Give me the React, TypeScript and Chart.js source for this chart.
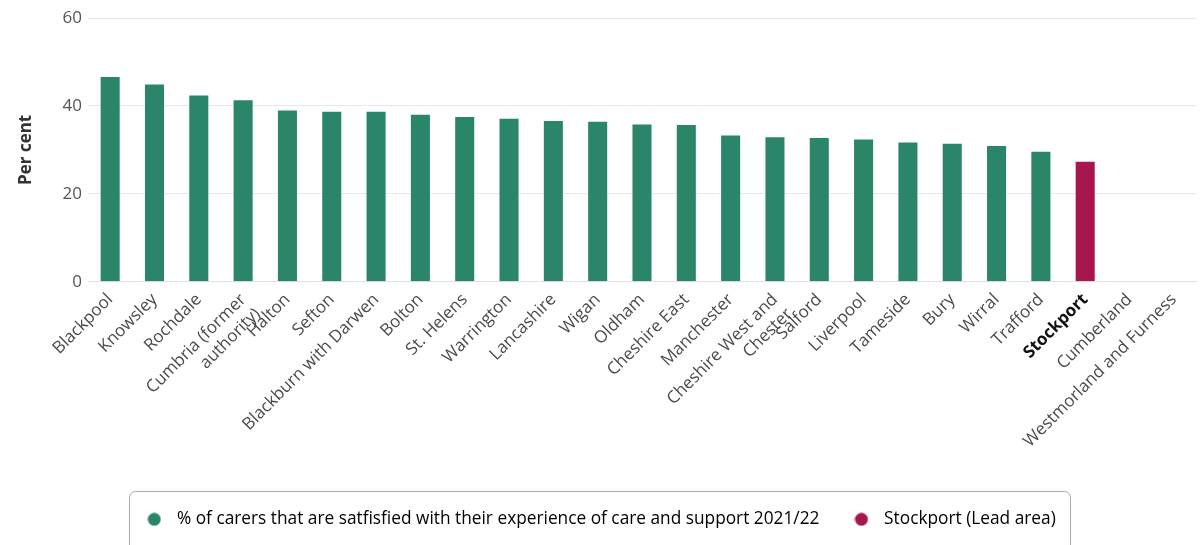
import React, { useEffect, useRef } from 'react';
import { Chart, registerables } from 'chart.js';
Chart.register(...registerables);

const categories: (string | string[])[] = [
  'Blackpool', 'Knowsley', 'Rochdale', ['Cumbria (former', 'authority)'], 'Halton', 'Sefton',
  'Blackburn with Darwen', 'Bolton', 'St. Helens', 'Warrington', 'Lancashire', 'Wigan', 'Oldham',
  'Cheshire East', 'Manchester', ['Cheshire West and', 'Chester'], 'Salford', 'Liverpool', 'Tameside',
  'Bury', 'Wirral', 'Trafford', 'Stockport', 'Cumberland', 'Westmorland and Furness',
];
const values: (number | null)[] = [
  46.8, 45.1, 42.6, 41.5, 39.2, 38.9, 38.9, 38.2, 37.7, 37.3, 36.8, 36.6, 36.0,
  35.9, 33.5, 33.1, 32.9, 32.6, 31.9, 31.6, 31.1, 29.8, 27.5, null, null,
];
const yTicks = [0, 20, 40, 60];
const leadArea = 'Stockport';
const seriesLabel = '% of carers that are satfisfied with their experience of care and support 2021/22';
const leadLabel = 'Stockport (Lead area)';
const yTitle = 'Per cent';

const GREEN = '#2b8669';
const CRIMSON = '#a7164f';
const FONT = '"Open Sans", "Noto Sans", sans-serif';

function dot(color: string) {
  const c = document.createElement('canvas');
  c.width = 14;
  c.height = 14;
  const g = c.getContext('2d')!;
  g.fillStyle = color;
  g.beginPath();
  g.arc(7, 7, 6.5, 0, Math.PI * 2);
  g.fill();
  return c;
}

const legendFrame = {
  id: 'legendFrame',
  afterDraw(chart: any) {
    const lg = chart.legend;
    if (!lg || !lg.legendHitBoxes || !lg.legendHitBoxes.length) return;
    const hb = lg.legendHitBoxes;
    const first = hb[0];
    const last = hb[hb.length - 1];
    const cy = first.top + first.height / 2;
    const x0 = Math.round(first.left - 11) + 0.5;
    const x1 = Math.round(last.left + last.width + 14) + 0.5;
    const y0 = Math.round(cy - 28) + 0.5;
    const y1 = cy + 80;
    const ctx = chart.ctx;
    ctx.save();
    ctx.strokeStyle = '#a9a9a9';
    ctx.lineWidth = 1;
    ctx.beginPath();
    ctx.roundRect(x0, y0, x1 - x0, y1 - y0, 6);
    ctx.stroke();
    ctx.restore();
  },
};

export default function App() {
  const ref = useRef<HTMLCanvasElement>(null);
  useEffect(() => {
    if (!ref.current) return;
    const isLead = (i: number) => categories[i] === leadArea;
    const chart = new Chart(ref.current, {
      type: 'bar',
      data: {
        labels: categories as any,
        datasets: [
          {
            label: seriesLabel,
            data: values as any,
            backgroundColor: categories.map((c) => (c === leadArea ? CRIMSON : GREEN)),
            borderColor: 'rgba(255,255,255,0.35)',
            borderWidth: 1,
            barPercentage: 0.475,
            categoryPercentage: 1,
          },
        ],
      },
      options: {
        animation: false,
        responsive: false,
        layout: { padding: { top: 18, right: 6, bottom: 7, left: 0 } },
        plugins: {
          tooltip: { enabled: false },
          legend: {
            position: 'bottom',
            labels: {
              usePointStyle: true,
              pointStyleWidth: 28,
              padding: 28,
              color: '#333333',
              font: { family: FONT, size: 17.3 },
              generateLabels: () => [
                { text: seriesLabel, fillStyle: GREEN, strokeStyle: GREEN, lineWidth: 0, pointStyle: dot(GREEN) as any, hidden: false, datasetIndex: 0 },
                { text: leadLabel, fillStyle: CRIMSON, strokeStyle: CRIMSON, lineWidth: 0, pointStyle: dot(CRIMSON) as any, hidden: false, datasetIndex: 0 },
              ],
            },
          },
        },
        scales: {
          x: {
            grid: { display: false, drawTicks: false },
            border: { display: true, color: '#dde1e8' },
            ticks: {
              autoSkip: false,
              minRotation: 45,
              maxRotation: 45,
              padding: 8,
              color: (ctx: any) => (isLead(ctx.index) ? '#111111' : '#4a4a4a'),
              font: (ctx: any) => ({ family: FONT, size: 17, weight: isLead(ctx.index) ? 'bold' : 'normal' }),
            },
            afterFit: (s: any) => {
              s.height = 201;
            },
          },
          y: {
            min: yTicks[0],
            max: yTicks[yTicks.length - 1],
            afterBuildTicks: (s: any) => {
              s.ticks = yTicks.map((v) => ({ value: v }));
            },
            grid: { color: '#e8e8e8', drawTicks: false },
            border: { display: false },
            ticks: { padding: 6, color: '#555555', font: { family: FONT, size: 17 } },
            title: {
              display: true,
              text: yTitle,
              color: '#333333',
              font: { family: FONT, size: 17, weight: 'bold' },
              padding: { top: 16, bottom: 0 },
            },
            afterFit: (s: any) => {
              s.width = 88;
            },
          },
        },
      },
      plugins: [legendFrame],
    });
    return () => chart.destroy();
  }, []);
  return (
    <div style={{ position: 'fixed', left: 0, top: 0, width: 1202, height: 545, overflow: 'hidden', background: '#fff' }}>
      <canvas ref={ref} width={1202} height={545} style={{ display: 'block' }} />
    </div>
  );
}
